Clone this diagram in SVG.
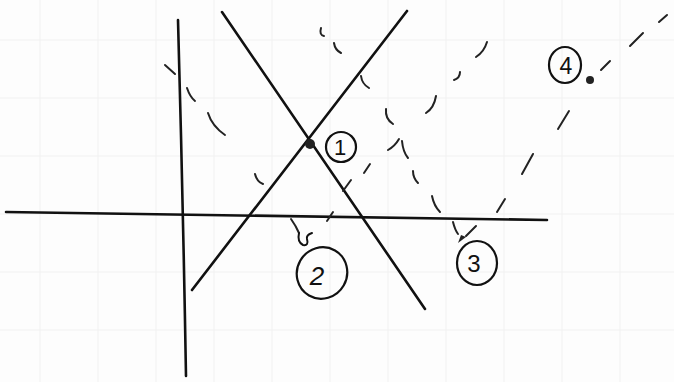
<svg xmlns="http://www.w3.org/2000/svg" width="674" height="382" viewBox="0 0 674 382">
<style>
.ln{stroke:#111;stroke-width:2.6;fill:none;stroke-linecap:round}
.ds{stroke:#222;stroke-width:2;fill:none;stroke-linecap:round}
.cir{stroke:#111;stroke-width:2.2;fill:none}
.num{font-family:"Liberation Sans",sans-serif;font-size:22px;fill:#111;text-anchor:middle}
.grid{stroke:#f1f1f1;stroke-width:1}
</style>
<rect width="674" height="382" fill="#fdfdfd"/>
<g id="grid">
<path class="grid" d="M40 0V382M98 0V382M156 0V382M214 0V382M272 0V382M330 0V382M388 0V382M446 0V382M504 0V382M562 0V382M620 0V382M0 40H674M0 98H674M0 156H674M0 214H674M0 272H674M0 330H674"/>
</g>
<g id="axes">
<path class="ln" d="M178 20 Q183 200 186 376"/>
<path class="ln" d="M6 212 Q280 215 547 220"/>
</g>
<g id="lines">
<path class="ln" d="M222 12 L425 309"/>
<path class="ln" d="M192 290 L407 11"/>
</g>
<g id="connectors">
<path class="ds" d="M165 65 L175 74"/>
<path class="ds" d="M187 88 Q190 97 195 101"/>
<path class="ds" d="M208 113 Q212 126 225 135"/>
<path class="ds" d="M255 174 Q257 182 263 184"/>
<path class="ds" d="M321 28 Q319 35 324 36"/>
<path class="ds" d="M334 43 Q335 50 341 53"/>
<path class="ds" d="M361 76 Q362 84 369 88"/>
<path class="ds" d="M386 109 Q385 119 393 124"/>
<path class="ds" d="M402 141 Q403 152 408 158"/>
<path class="ds" d="M413 171 Q413 178 418 183"/>
<path class="ds" d="M432 196 Q434 206 440 212"/>
<path class="ds" d="M453 222 Q455 230 458 234"/>
<path class="ds" d="M487 42 Q484 52 476 57"/>
<path class="ds" d="M460 72 Q460 78 454 80"/>
<path class="ds" d="M436 96 Q434 108 426 113"/>
<path class="ds" d="M399 139 Q395 146 388 150"/>
<path class="ds" d="M370 164 L364 173"/>
<path class="ds" d="M351 180 L343 191"/>
<path class="ds" d="M333 212 L327 221"/>
<path class="ds" d="M667 15 L659 22"/>
<path class="ds" d="M643 33 L630 46"/>
<path class="ds" d="M610 61 L601 70"/>
<path class="ds" d="M569 111 L558 129"/>
<path class="ds" d="M533 154 L522 174"/>
<path class="ds" d="M505 199 L497 212"/>
<path class="ds" d="M476 226 L466 236"/>
<path class="ds" d="M291 219 Q296 226 299 233"/>
</g>
<g id="node1">
<circle cx="310" cy="144" r="5" fill="#222"/>
<ellipse class="cir" cx="341" cy="147" rx="15" ry="15"/>
<text class="num" x="340" y="155">1</text>
</g>
<g id="node2">
<path class="ln" d="M299 233 Q297 242 303 245 Q309 246 307 239 Q306 235 312 233" style="stroke-width:2"/>
<ellipse class="cir" cx="322" cy="273" rx="25" ry="26" transform="rotate(30 322 273)"/>
<text class="num" x="317" y="285" style="font-size:26px;font-style:italic">2</text>
</g>
<g id="node3">
<path d="M458 243 L466 237 L461 235 Z" fill="#222"/>
<ellipse class="cir" cx="477" cy="263" rx="20" ry="22"/>
<text class="num" x="474" y="272" style="font-size:24px">3</text>
</g>
<g id="node4">
<circle cx="590" cy="80" r="4" fill="#222"/>
<ellipse class="cir" cx="565" cy="65" rx="16" ry="18"/>
<text class="num" x="566" y="74" style="font-size:23px">4</text>
</g>
</svg>
